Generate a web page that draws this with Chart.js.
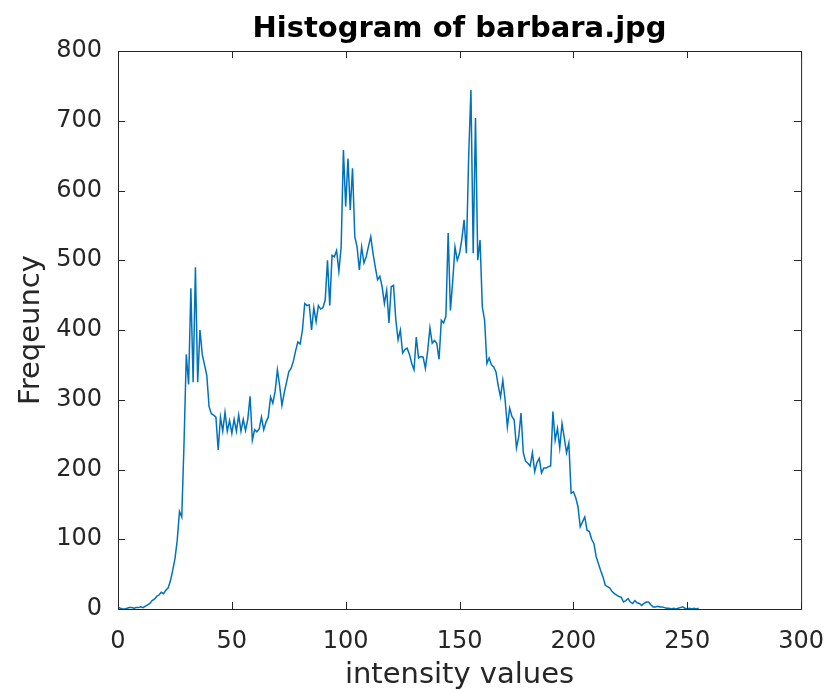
<!DOCTYPE html>
<html>
<head>
<meta charset="utf-8">
<script src="https://cdn.jsdelivr.net/npm/chart.js@4.4.0/dist/chart.umd.min.js"></script>
<style>
  html, body { margin: 0; padding: 0; background: #ffffff; }
  #wrap { width: 834px; height: 693px; }
</style>
</head>
<body>
<div id="wrap"><canvas id="histChart"></canvas></div>
<script>
// pixel count per intensity level 0..255
const pixelCounts = [
  3, 1, 0, 0, 1, 2, 2, 1, 2, 2,
  3, 2, 4, 6, 8, 12, 14, 18, 20, 24,
  22, 27, 30, 40, 55, 72, 98, 140, 132, 238,
  365, 322, 460, 325, 490, 325, 400, 365, 350, 335,
  290, 280, 278, 275, 228, 275, 255, 282, 255, 270,
  252, 272, 255, 278, 255, 272, 256, 272, 305, 242,
  257, 254, 258, 275, 257, 268, 275, 304, 295, 312,
  343, 320, 292, 310, 325, 340, 345, 355, 370, 383,
  380, 400, 438, 435, 436, 400, 432, 412, 435, 430,
  432, 443, 500, 435, 507, 505, 514, 484, 519, 658,
  577, 646, 572, 632, 534, 519, 486, 519, 496, 505,
  520, 534, 510, 490, 472, 477, 462, 438, 457, 410,
  462, 464, 415, 386, 400, 367, 372, 374, 365, 352,
  343, 390, 360, 362, 361, 345, 370, 403, 381, 385,
  381, 358, 414, 410, 420, 539, 428, 470, 519, 500,
  510, 530, 558, 510, 648, 744, 510, 704, 500, 529,
  433, 414, 352, 360, 350, 347, 340, 320, 304, 328,
  300, 261, 288, 276, 271, 231, 247, 281, 224, 212,
  209, 205, 224, 197, 210, 216, 195, 202, 202, 204,
  205, 283, 242, 259, 231, 266, 245, 224, 238, 166,
  168, 160, 147, 118, 125, 132, 113, 111, 100, 94,
  75, 65, 55, 46, 34, 32, 30, 25, 22, 20,
  18, 17, 10, 12, 15, 10, 8, 12, 9, 8,
  5, 8, 10, 10, 6, 3, 3, 4, 3, 3,
  2, 1, 1, 0, 1, 0, 1, 2, 3, 1,
  0, 1, 0, 1, 0, 1
];

const xTicks = [0, 50, 100, 150, 200, 250, 300];
const yTicks = [0, 100, 200, 300, 400, 500, 600, 700, 800];

const titleText = 'Histogram of barbara.jpg';
const xLabel = 'intensity values';
const yLabel = 'Freqeuncy';

const axisColor = '#262626';
const fontFamily = '"DejaVu Sans", sans-serif';

// MATLAB-like box with inward ticks on all four sides, plus title and axis labels
const matlabFrame = {
    id: 'matlabFrame',
    afterDraw(chart) {
        const { ctx, chartArea: a, scales: { x, y } } = chart;
        const tickLen = 7;
        ctx.save();
        ctx.strokeStyle = axisColor;
        ctx.lineWidth = 1;
        ctx.strokeRect(a.left + 0.5, a.top + 0.5, a.right - a.left, a.bottom - a.top);

        ctx.beginPath();
        for (const v of xTicks) {
            const px = Math.round(x.getPixelForValue(v)) + 0.5;
            ctx.moveTo(px, a.bottom);
            ctx.lineTo(px, a.bottom - tickLen);
            ctx.moveTo(px, a.top);
            ctx.lineTo(px, a.top + tickLen);
        }
        for (const v of yTicks) {
            const py = Math.round(y.getPixelForValue(v)) + 0.5;
            ctx.moveTo(a.left, py);
            ctx.lineTo(a.left + tickLen, py);
            ctx.moveTo(a.right, py);
            ctx.lineTo(a.right - tickLen, py);
        }
        ctx.stroke();

        const midX = (a.left + a.right) / 2;
        const midY = (a.top + a.bottom) / 2;

        ctx.fillStyle = '#000000';
        ctx.textAlign = 'center';
        ctx.textBaseline = 'middle';
        ctx.font = 'bold 29px ' + fontFamily;
        ctx.fillText(titleText, midX, 29);

        ctx.fillStyle = axisColor;
        ctx.font = '29px ' + fontFamily;
        ctx.fillText(xLabel, midX, 675);

        ctx.translate(31, midY);
        ctx.rotate(-Math.PI / 2);
        ctx.fillText(yLabel, 0, 0);
        ctx.restore();
    }
};

const ctx = document.getElementById('histChart');

new Chart(ctx, {
    type: 'line',
    data: {
        datasets: [{
            data: pixelCounts.map((count, level) => ({ x: level, y: count })),
            borderColor: '#0072BD',
            borderWidth: 1.5,
            pointRadius: 0,
            fill: false,
            tension: 0
        }]
    },
    options: {
        responsive: true,
        maintainAspectRatio: false,
        animation: false,
        layout: {
            padding: { top: 51, right: 32, left: 0, bottom: 0 }
        },
        plugins: {
            legend: { display: false },
            tooltip: { enabled: false },
            title: { display: false }
        },
        scales: {
            x: {
                type: 'linear',
                min: 0,
                max: 300,
                afterBuildTicks: scale => { scale.ticks = xTicks.map(v => ({ value: v })); },
                afterFit: scale => { scale.height = 84; },
                grid: { display: false },
                border: { display: false },
                ticks: {
                    color: axisColor,
                    font: { family: fontFamily, size: 24 },
                    padding: 10,
                    maxRotation: 0,
                    autoSkip: false
                }
            },
            y: {
                type: 'linear',
                min: 0,
                max: 800,
                afterBuildTicks: scale => { scale.ticks = yTicks.map(v => ({ value: v })); },
                afterFit: scale => { scale.width = 118; },
                grid: { display: false },
                border: { display: false },
                ticks: {
                    color: axisColor,
                    font: { family: fontFamily, size: 24 },
                    padding: 8,
                    autoSkip: false
                }
            }
        }
    },
    plugins: [matlabFrame]
});
</script>
</body>
</html>
